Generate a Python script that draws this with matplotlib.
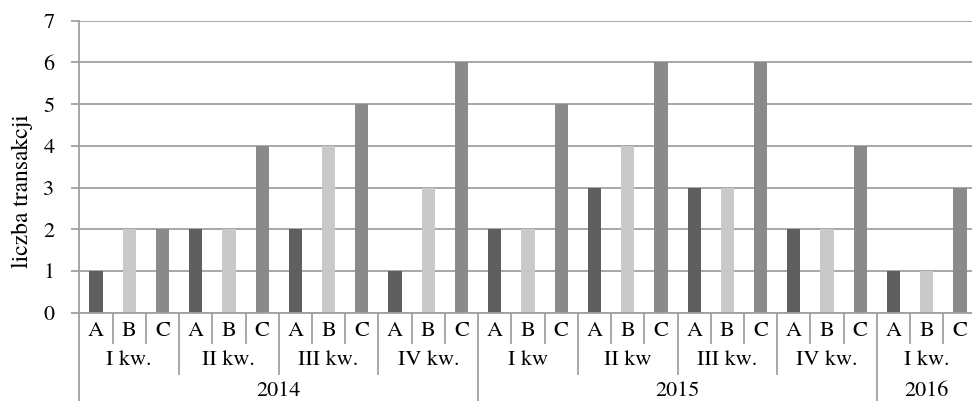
import matplotlib
matplotlib.use("Agg")
import matplotlib.pyplot as plt
import matplotlib.transforms as mtransforms

years = ["2014", "2015", "2016"]
quarters = ["I kw.", "II kw.", "III kw.", "IV kw.",
            "I kw", "II kw", "III kw.", "IV kw.",
            "I kw."]
quarter_year = [0, 0, 0, 0, 1, 1, 1, 1, 2]
letters = ["A", "B", "C"]
values = [
    [1, 2, 2],
    [2, 2, 4],
    [2, 4, 5],
    [1, 3, 6],
    [2, 2, 5],
    [3, 4, 6],
    [3, 3, 6],
    [2, 2, 4],
    [1, 1, 3],
]
colors = {"A": "#5f5f5f", "B": "#c9c9c9", "C": "#8a8a8a"}

plt.rcParams['font.family'] = ['TeX Gyre Termes', 'STIXGeneral', 'DejaVu Serif']
FS = 16
LINE = "#a0a0a0"

fig = plt.figure(figsize=(9.72, 4.01), dpi=100)
left_px, right_px = 79.4, 976.6
top_px, bottom_px = 20.7, 312.7
W, H = 972, 401
ax = fig.add_axes([left_px / W, 1 - bottom_px / H,
                   (right_px - left_px) / W, (bottom_px - top_px) / H])

x = 0
for qi, q in enumerate(quarters):
    for li, l in enumerate(letters):
        ax.bar(x, values[qi][li], width=0.40, color=colors[l], zorder=3)
        x += 1
n = x

ax.set_xlim(-0.5, n - 0.5)
ax.set_ylim(0, 7)
ax.set_yticks(range(0, 8))
ax.yaxis.grid(True, color=LINE, linewidth=1.3, zorder=0)
for s in ["top", "right", "bottom"]:
    ax.spines[s].set_visible(False)
ax.spines["left"].set_color(LINE)
ax.spines["left"].set_linewidth(1.3)
ax.tick_params(axis="y", length=6, width=1.3, color=LINE, pad=12, labelsize=FS)
ax.set_xticks([])
fig.text(22.5 / W, 1 - 191.5 / H, "liczba transakcji", rotation=90,
         ha="center", va="center", fontsize=17)

trans = mtransforms.blended_transform_factory(ax.transData, ax.transAxes)

# x-axis baseline
ax.plot([-0.5, n - 0.5], [0, 0], transform=trans, color=LINE, lw=1.3, clip_on=False, zorder=4)

y1, y2, y3 = -0.104, -0.209, -0.31
for i in range(n):
    ax.text(i, -0.062, letters[i % 3], transform=trans, ha="center", va="center", fontsize=FS)
    if i > 0:
        b = i - 0.5
        if i % 12 == 0:
            yb = y3
        elif i % 3 == 0:
            yb = y2
        else:
            yb = y1
        ax.plot([b, b], [0, yb], transform=trans, color=LINE, lw=1.3, clip_on=False)
ax.plot([-0.5, -0.5], [0, y3], transform=trans, color=LINE, lw=1.3, clip_on=False)

for qi, q in enumerate(quarters):
    ax.text(qi * 3 + 1, -0.163, q, transform=trans, ha="center", va="center", fontsize=FS)

for yi, yname in enumerate(years):
    idx = [i for i, v in enumerate(quarter_year) if v == yi]
    c = (idx[0] * 3 + idx[-1] * 3 + 2) / 2
    ax.text(c, -0.268, yname, transform=trans, ha="center", va="center", fontsize=FS)

fig.savefig("out.png", dpi=100)
